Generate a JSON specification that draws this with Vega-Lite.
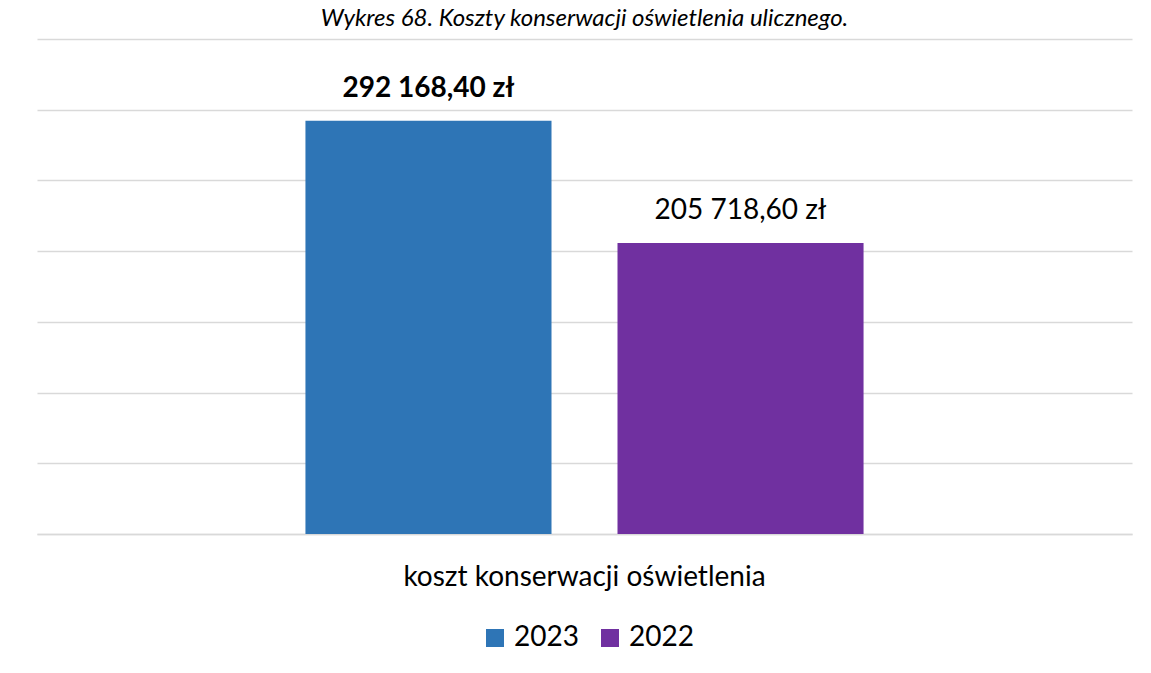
{
  "$schema": "https://vega.github.io/schema/vega-lite/v6.json",
  "width": 1095,
  "height": 495,
  "autosize": {"type": "none"},
  "padding": {"left": 37, "top": 39, "right": 19, "bottom": 139},
  "background": "white",
  "title": {
    "text": "Wykres 68. Koszty konserwacji oświetlenia ulicznego.",
    "font": "Lato",
    "fontSize": 24,
    "fontStyle": "italic",
    "fontWeight": "normal",
    "color": "#000000",
    "anchor": "middle",
    "offset": 8
  },
  "data": {
    "values": [
      {"kategoria": "koszt konserwacji oświetlenia", "rok": "2023", "wartosc": 292168.40, "etykieta": "292 168,40 zł"},
      {"kategoria": "koszt konserwacji oświetlenia", "rok": "2022", "wartosc": 205718.60, "etykieta": "205 718,60 zł"}
    ]
  },
  "encoding": {
    "x": {
      "field": "kategoria", "type": "nominal",
      "scale": {"paddingInner": 0, "paddingOuter": 0.481},
      "axis": {
        "title": null, "labelAngle": 0, "ticks": false, "labelLimit": 0,
        "domainColor": "#d9d9d9", "domainWidth": 1.5,
        "labelFont": "Lato", "labelFontSize": 28, "labelColor": "#000000",
        "labelPadding": 29
      }
    },
    "xOffset": {
      "field": "rok", "type": "nominal",
      "sort": ["2023", "2022"],
      "scale": {"paddingInner": 0.2115, "paddingOuter": 0}
    },
    "y": {
      "field": "wartosc", "type": "quantitative",
      "scale": {"domain": [0, 350000], "nice": false},
      "axis": {
        "title": null, "labels": false, "ticks": false, "domain": false,
        "values": [0, 50000, 100000, 150000, 200000, 250000, 300000, 350000],
        "gridColor": "#d9d9d9", "gridWidth": 1.5
      }
    }
  },
  "layer": [
    {
      "mark": {"type": "bar"},
      "encoding": {
        "color": {
          "field": "rok", "type": "nominal",
          "sort": ["2023", "2022"],
          "scale": {"domain": ["2023", "2022"], "range": ["#2E75B6", "#7030A0"]},
          "legend": {
            "title": null, "orient": "none", "direction": "horizontal",
            "legendX": 444, "legendY": 585,
            "symbolType": "square", "symbolSize": 324, "symbolStrokeWidth": 0,
            "labelFont": "Lato", "labelFontSize": 28, "labelColor": "#000000",
            "columnPadding": 17, "labelOffset": 5
          }
        }
      }
    },
    {
      "transform": [{"filter": "datum.rok == '2023'"}],
      "mark": {"type": "text", "baseline": "bottom", "dy": -18, "font": "Lato", "fontSize": 28, "fontWeight": "bold", "color": "#000000"},
      "encoding": {"text": {"field": "etykieta"}}
    },
    {
      "transform": [{"filter": "datum.rok == '2022'"}],
      "mark": {"type": "text", "baseline": "bottom", "dy": -18, "font": "Lato", "fontSize": 28, "fontWeight": "normal", "color": "#000000"},
      "encoding": {"text": {"field": "etykieta"}}
    }
  ],
  "config": {"view": {"stroke": null}}
}
